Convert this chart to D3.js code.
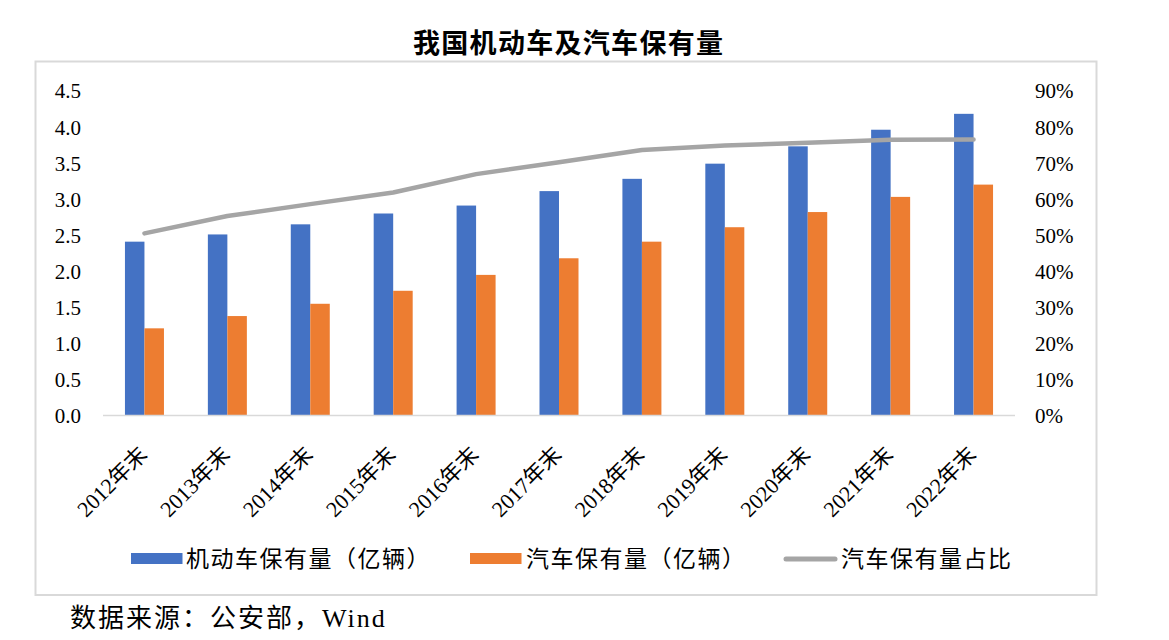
<!DOCTYPE html>
<html>
<head>
<meta charset="utf-8">
<script src="https://cdn.jsdelivr.net/npm/d3@7"></script>
<style>
  html, body { margin: 0; padding: 0; background: #fff; }
  svg { display: block; }
  .serif { font-family: "Liberation Serif", Tinos, "Times New Roman", "DejaVu Serif", "Noto Sans CJK SC", serif; }
  .cjk { font-family: "Noto Sans CJK SC", sans-serif; }
</style>
</head>
<body>
<svg id="chart" width="1169" height="640"></svg>
<script>
const categories = ["2012年末","2013年末","2014年末","2015年末","2016年末","2017年末","2018年末","2019年末","2020年末","2021年末","2022年末"];
const motorVehicles = [2.40, 2.50, 2.64, 2.79, 2.90, 3.10, 3.27, 3.48, 3.72, 3.95, 4.17];
const cars = [1.20, 1.37, 1.54, 1.72, 1.94, 2.17, 2.40, 2.60, 2.81, 3.02, 3.19];
const carShare = [0.503, 0.551, 0.584, 0.616, 0.667, 0.700, 0.734, 0.746, 0.754, 0.762, 0.763];
const leftTicks = [0, 0.5, 1.0, 1.5, 2.0, 2.5, 3.0, 3.5, 4.0, 4.5];
const rightTicks = [0, 0.1, 0.2, 0.3, 0.4, 0.5, 0.6, 0.7, 0.8, 0.9];
const seriesNames = ["机动车保有量（亿辆）", "汽车保有量（亿辆）", "汽车保有量占比"];
const titleText = "我国机动车及汽车保有量";
const sourceText = "数据来源：公安部，Wind";

const colors = { blue: "#4472c4", orange: "#ed7d31", gray: "#a5a5a5", axis: "#d9d9d9", frame: "#d9d9d9" };

const svg = d3.select("#chart");

// frame
svg.append("rect").attr("x", 35.5).attr("y", 61.5).attr("width", 1061).attr("height", 533.5)
  .attr("fill", "none").attr("stroke", colors.frame).attr("stroke-width", 2);

// title
svg.append("text").attr("class", "cjk").attr("x", 413).attr("y", 53)
  .attr("font-size", 27).attr("font-weight", 700)
  .attr("textLength", 310).attr("lengthAdjust", "spacing")
  .attr("fill", "#000").text(titleText);

const plot = { left: 103, right: 1015, top: 90, bottom: 415 };

const x = d3.scaleBand().domain(categories).range([plot.left, plot.right]).paddingInner(0).paddingOuter(0);
const barW = 19.5;
const xSub = d3.scaleBand().domain(["motor", "car"]).range([-barW, barW]).padding(0);
const yL = d3.scaleLinear().domain([0, 4.5]).range([plot.bottom, plot.top]);
const yR = d3.scaleLinear().domain([0, 0.9]).range([plot.bottom, plot.top]);

// bars
const g = svg.append("g");
const cx = d => x(d) + x.bandwidth() / 2;
g.selectAll("rect.motor").data(categories).enter().append("rect")
  .attr("class", "motor")
  .attr("x", d => cx(d) + xSub("motor"))
  .attr("width", xSub.bandwidth())
  .attr("y", (d, i) => yL(motorVehicles[i]))
  .attr("height", (d, i) => yL(0) - yL(motorVehicles[i]))
  .attr("fill", colors.blue);
g.selectAll("rect.car").data(categories).enter().append("rect")
  .attr("class", "car")
  .attr("x", d => cx(d) + xSub("car"))
  .attr("width", xSub.bandwidth())
  .attr("y", (d, i) => yL(cars[i]))
  .attr("height", (d, i) => yL(0) - yL(cars[i]))
  .attr("fill", colors.orange);

// x axis line
svg.append("line").attr("x1", plot.left).attr("x2", plot.right)
  .attr("y1", plot.bottom + 0.5).attr("y2", plot.bottom + 0.5)
  .attr("stroke", colors.axis).attr("stroke-width", 1.5);

// line
const line = d3.line().x((d, i) => cx(categories[i])).y(d => yR(d));
svg.append("path").datum(carShare).attr("d", line)
  .attr("fill", "none").attr("stroke", colors.gray).attr("stroke-width", 4.5)
  .attr("stroke-linecap", "round").attr("stroke-linejoin", "round");

// left axis
const leftAxis = d3.axisLeft(yL).tickValues(leftTicks).tickFormat(d3.format(".1f")).tickSize(0).tickPadding(0);
const la = svg.append("g").attr("transform", "translate(81,0)").call(leftAxis);
la.select(".domain").remove();
la.attr("font-family", null).attr("font-size", null);
la.selectAll("text").attr("class", "serif").attr("font-size", 21).attr("fill", "#000")
  .attr("dy", "0.38em");

// right axis
const rightAxis = d3.axisRight(yR).tickValues(rightTicks).tickFormat(d3.format(".0%")).tickSize(0).tickPadding(0);
const ra = svg.append("g").attr("transform", "translate(1035,0)").call(rightAxis);
ra.select(".domain").remove();
ra.attr("font-family", null).attr("font-size", null);
ra.selectAll("text").attr("class", "serif").attr("font-size", 21).attr("fill", "#000")
  .attr("dy", "0.38em");

// x labels
svg.append("g").selectAll("text").data(categories).enter().append("text")
  .attr("class", "serif")
  .attr("transform", d => `translate(${cx(d) + 4},${456}) rotate(-45)`)
  .attr("text-anchor", "end")
  .attr("font-size", 22).attr("fill", "#000")
  .text(d => d);

// legend
const legY = 559;
const leg = svg.append("g");
leg.append("rect").attr("x", 131).attr("y", 553).attr("width", 51.5).attr("height", 11).attr("fill", colors.blue);
leg.append("rect").attr("x", 470).attr("y", 553).attr("width", 51.5).attr("height", 11).attr("fill", colors.orange);
leg.append("line").attr("x1", 786).attr("x2", 835).attr("y1", legY).attr("y2", legY)
  .attr("stroke", colors.gray).attr("stroke-width", 5).attr("stroke-linecap", "round");
const legX = [186, 526, 841];
leg.selectAll("text").data(seriesNames).enter().append("text")
  .attr("class", "cjk")
  .attr("x", (d, i) => legX[i]).attr("y", legY).attr("dy", "0.36em")
  .attr("font-size", 23).attr("letter-spacing", 1.5).attr("fill", "#000")
  .text(d => d);

// source
svg.append("text").attr("class", "serif").attr("x", 70).attr("y", 627)
  .attr("font-size", 26).attr("letter-spacing", 2)
  .attr("fill", "#000").text(sourceText);
</script>
</body>
</html>
